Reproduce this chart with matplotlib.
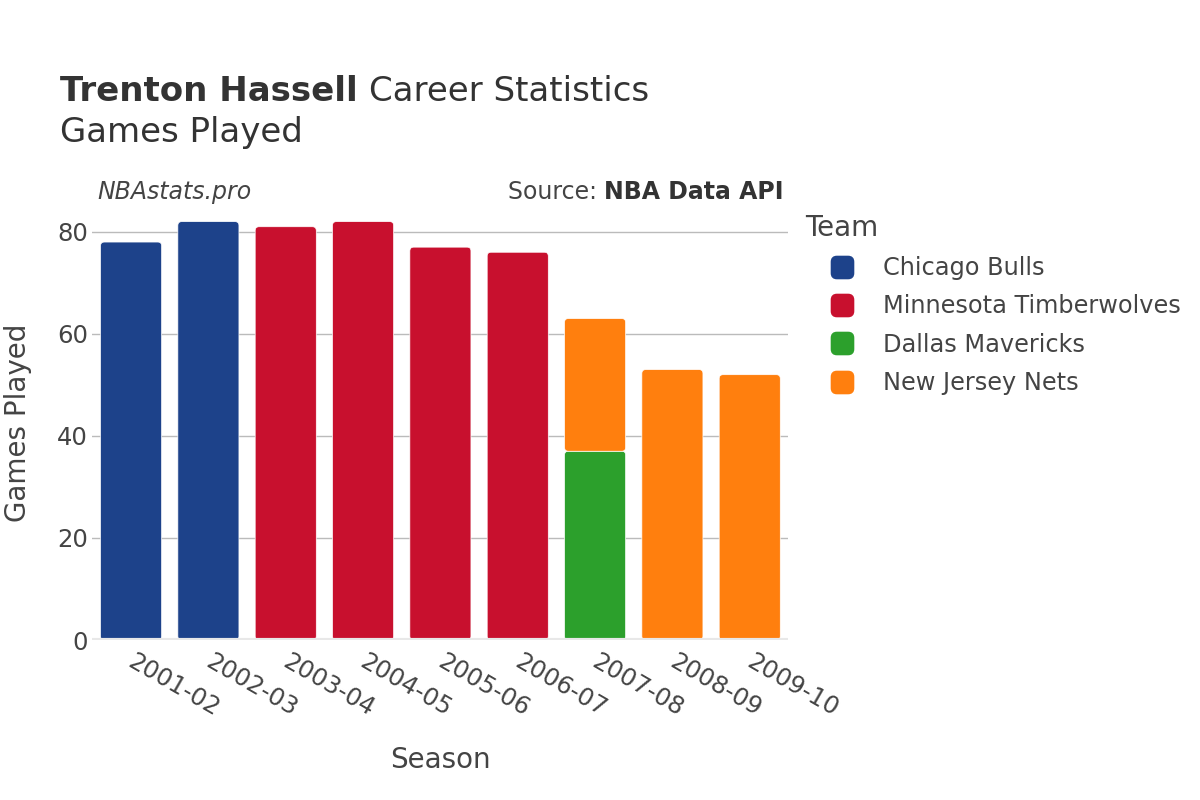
import matplotlib.pyplot as plt
import numpy as np
from matplotlib.lines import Line2D
from matplotlib.patches import FancyBboxPatch, BoxStyle
from matplotlib.transforms import ScaledTranslation

seasons = ['2001-02', '2002-03', '2003-04', '2004-05', '2005-06',
           '2006-07', '2007-08', '2008-09', '2009-10']
teams = ['Chicago Bulls', 'Minnesota Timberwolves', 'Dallas Mavericks', 'New Jersey Nets']
colors = ['#1d428a', '#c8102e', '#2ca02c', '#ff7f0e']

# games per season for each team (stacked)
bulls = [78, 82, 0, 0, 0, 0, 0, 0, 0]
wolves = [0, 0, 81, 82, 77, 76, 0, 0, 0]
mavs = [0, 0, 0, 0, 0, 0, 37, 0, 0]
nets = [0, 0, 0, 0, 0, 0, 26, 53, 52]
series = [bulls, wolves, mavs, nets]

txt = '#444444'

fig = plt.figure(figsize=(12, 8), dpi=100)
ax = fig.add_axes([0.077, 0.2, 0.58, 0.544])

ax.set_xlim(-0.5, len(seasons) - 0.5)
ax.set_ylim(0, 85.3)

# aspect between x and y data units in pixels, for round corners
px_x = 0.58 * 1200 / len(seasons)
px_y = 0.544 * 800 / 85.3
asp = px_x / px_y

x = np.arange(len(seasons))
bottom = np.zeros(len(seasons))
for vals, c in zip(series, colors):
    vals = np.array(vals)
    bars = ax.bar(x, vals, width=0.79, bottom=bottom, color=c, zorder=3)
    for b in bars:
        b.set_visible(False)
        if b.get_height() <= 0:
            continue
        p = FancyBboxPatch((b.get_x(), b.get_y()), b.get_width(), b.get_height(),
                           boxstyle='round,pad=0,rounding_size=0.05',
                           mutation_aspect=asp, facecolor=c,
                           edgecolor='white', linewidth=0.5, zorder=3)
        ax.add_patch(p)
    bottom += vals

ax.set_yticks([0, 20, 40, 60, 80])
ax.yaxis.grid(True, color='#bbbbbb', linewidth=1, zorder=0)
ax.axhline(0, color='#e8e8e8', linewidth=3, zorder=4)
for s in ax.spines.values():
    s.set_visible(False)
ax.tick_params(axis='both', length=0, labelsize=17.5, colors=txt)
ax.tick_params(axis='y', pad=3)
ax.set_xticks(x)
ax.set_xticklabels(seasons, rotation=-30, ha='left', rotation_mode='anchor')
ax.tick_params(axis='x', pad=7)
shift = ScaledTranslation(5 / 100, 0, fig.dpi_scale_trans)
for lab in ax.get_xticklabels():
    lab.set_transform(lab.get_transform() + shift)

ax.set_xlabel('Season', fontsize=20, color=txt, labelpad=18)
ax.set_ylabel('Games Played', fontsize=20, color=txt, labelpad=18)

fig.canvas.draw()
r = fig.canvas.get_renderer()

t1 = fig.text(0.05, 0.874, 'Trenton Hassell', fontsize=24.5, fontweight='bold',
              color='#333333', va='baseline')
bb = t1.get_window_extent(renderer=r)
fig.text(bb.x1 / 1200 + 0.009, 0.874, 'Career Statistics', fontsize=24.5,
         color='#333333', va='baseline')
fig.text(0.05, 0.822, 'Games Played', fontsize=24.5, color='#333333', va='baseline')

fig.text(0.081, 0.76, 'NBAstats.pro', fontsize=17, style='italic', color=txt, va='center')
t2 = fig.text(0.653, 0.76, 'NBA Data API', fontsize=17, fontweight='bold',
              color='#333333', va='center', ha='right')
bb2 = t2.get_window_extent(renderer=r)
fig.text(bb2.x0 / 1200, 0.76, 'Source: ', fontsize=17, color=txt, va='center', ha='right')

# rounded square legend marker
rsq = BoxStyle('Round', pad=0, rounding_size=0.25)(-0.5, -0.5, 1, 1, 1.0)
handles = [Line2D([0], [0], marker=rsq, linestyle='', markersize=16,
                  markerfacecolor=c, markeredgecolor=c) for c in colors]
leg = fig.legend(handles, teams, loc='upper left', bbox_to_anchor=(0.6633, 0.745),
                 frameon=False, fontsize=17.3, title='Team', title_fontsize=20,
                 labelspacing=0.6, handlelength=3.05, handletextpad=0.17,
                 borderaxespad=0)
leg._legend_box.align = 'left'
for t in leg.get_texts():
    t.set_color(txt)
leg.get_title().set_color(txt)

fig.savefig('out.png', dpi=100)
